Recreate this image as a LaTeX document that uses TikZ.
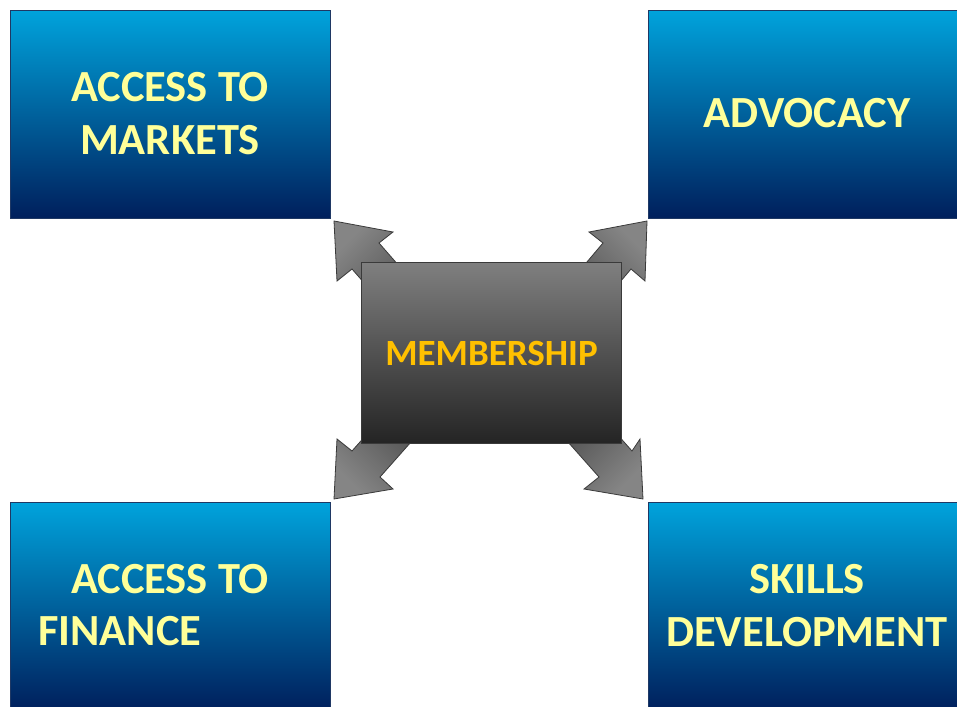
\documentclass[tikz,border=0pt]{standalone}
\usepackage{fontspec}
\setmainfont{Carlito}
\definecolor{boxtop}{HTML}{00A3DC}
\definecolor{boxbot}{HTML}{001F5C}
\definecolor{boxline}{HTML}{1F3864}
\definecolor{lbl}{HTML}{FFFF99}
\definecolor{memb}{HTML}{FFC000}
\definecolor{ctop}{HTML}{7F7F7F}
\definecolor{cbot}{HTML}{242424}
\definecolor{cline}{HTML}{3A3A3A}
\definecolor{alight}{HTML}{858585}
\definecolor{adark}{HTML}{3C3C3C}
\begin{document}
\begin{tikzpicture}[x=1pt,y=-1pt,
  bluebox/.style={draw=boxline, line width=0.8pt, top color=boxtop, bottom color=boxbot,
    minimum width=320pt, minimum height=208pt, anchor=north west, inner sep=0pt},
  centerbox/.style={draw=cline, line width=0.8pt, top color=ctop, bottom color=cbot,
    minimum width=260pt, minimum height=181pt, anchor=north west, inner sep=0pt},
  lab/.style={text=lbl, font=\fontsize{44.5}{52}\selectfont\bfseries, anchor=base, inner sep=0pt},
  blockarrow/.style={draw=cline, line width=0.8pt, top color=alight, bottom color=adark}
]
\useasboundingbox (0,0) rectangle (957,706);
\clip (0,0) rectangle (957,706);
% outer boxes
\node[bluebox] (tl) at (10,10) {};
\node[bluebox] (tr) at (648,10) {};
\node[bluebox] (bl) at (10,502) {};
\node[bluebox] (br) at (648,502) {};
% block arrows
\path[blockarrow, shading angle=45]
  (441,314) -- (379,243) -- (393,232) -- (334,221) -- (337,281) -- (352,269) -- (414,340) -- cycle;
\path[blockarrow, shading angle=-45]
  (543,314) -- (603,243) -- (589,232) -- (647,221) -- (645,281) -- (631,269) -- (571,340) -- cycle;
\path[blockarrow, shading angle=135]
  (414,381) -- (352,451) -- (337,439) -- (334,499) -- (393,489) -- (380,477) -- (442,407) -- cycle;
\path[blockarrow, shading angle=-135]
  (570,381) -- (632,451) -- (640,439) -- (643,499) -- (584,489) -- (599,477) -- (537,407) -- cycle;
% center box
\node[centerbox] (mem) at (361,262) {};
\node[text=memb, font=\fontsize{37}{44}\selectfont\bfseries, anchor=base, inner sep=0pt] (memt) at (491.5,365) {MEMBERSHIP};
% labels
\node[lab] (tl1) at (170,102) {ACCESS TO};
\node[lab] (tl2) at (170,154) {MARKETS};
\node[lab] (tr1) at (807,128) {ADVOCACY};
\node[lab] (bl1) at (170,593) {ACCESS TO};
\node[lab, anchor=base west] (bl2) at (38,645) {FINANCE};
\node[lab] (br1) at (807,593) {SKILLS};
\node[lab] (br2) at (807,646) {DEVELOPMENT};
\end{tikzpicture}
\end{document}
